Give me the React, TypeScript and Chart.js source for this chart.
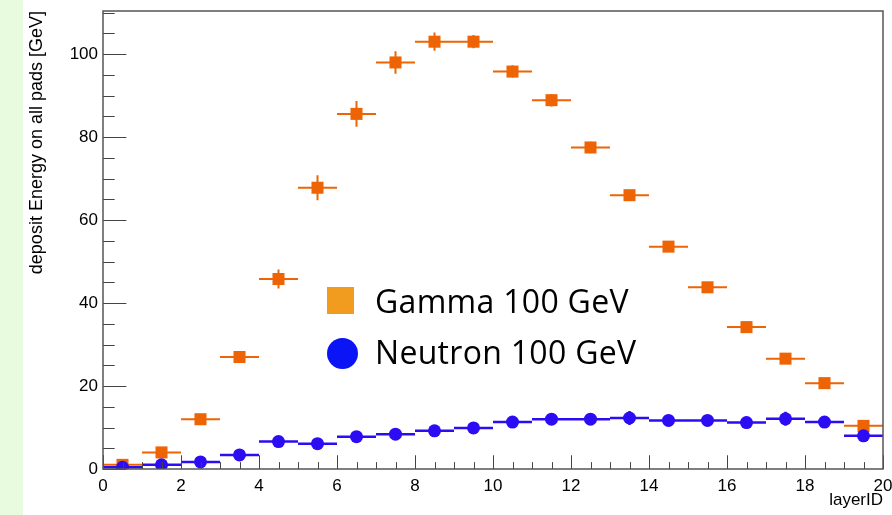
import React, { useEffect, useRef } from 'react';
import { Chart, registerables } from 'chart.js';

Chart.register(...registerables);

// ---- data ----
const layerCenters = [0.5, 1.5, 2.5, 3.5, 4.5, 5.5, 6.5, 7.5, 8.5, 9.5, 10.5, 11.5, 12.5, 13.5, 14.5, 15.5, 16.5, 17.5, 18.5, 19.5];
const gammaEnergy = [1.0, 4.0, 12.0, 27.0, 45.8, 67.8, 85.6, 98.0, 103.0, 103.0, 95.8, 88.9, 77.5, 66.0, 53.6, 43.8, 34.2, 26.6, 20.7, 10.4];
const gammaError = [0.4, 0.7, 1.0, 1.4, 2.3, 3.0, 3.1, 2.7, 2.2, 1.6, 1.5, 1.5, 1.4, 1.2, 1.3, 1.1, 1.0, 0.9, 0.8, 0.6];
const neutronEnergy = [0.4, 1.0, 1.7, 3.4, 6.6, 6.1, 7.8, 8.4, 9.2, 9.9, 11.3, 12.0, 12.0, 12.3, 11.7, 11.7, 11.2, 12.1, 11.3, 8.0];
const neutronError = [0.2, 0.4, 0.5, 0.8, 1.2, 1.0, 1.1, 1.0, 1.0, 1.0, 1.3, 1.4, 1.4, 1.7, 1.2, 1.2, 1.2, 1.7, 1.1, 1.0];
const xTickLabels = [0, 2, 4, 6, 8, 10, 12, 14, 16, 18, 20];
const yTickLabels = [0, 20, 40, 60, 80, 100];
const binHalfWidth = 0.5;
const xMinorStep = 0.5;
const yMinorStep = 5;
const xMin = 0, xMax = 20, yMin = 0, yMax = 110.4;

const FONT = '"Liberation Sans", Arial, Helvetica, sans-serif';

const histPlugin = {
  id: 'rootHist',
  beforeDatasetDraw(chart: any, args: any) {
    const ds = chart.data.datasets[args.index];
    const xs = chart.scales.x, ys = chart.scales.y;
    const ctx = chart.ctx;
    ctx.save();
    ctx.strokeStyle = ds.borderColor;
    ctx.lineWidth = ds.errLineWidth;
    ds.data.forEach((p: any, i: number) => {
      const x0 = xs.getPixelForValue(p.x - binHalfWidth);
      const x1 = xs.getPixelForValue(p.x + binHalfWidth);
      const xc = xs.getPixelForValue(p.x);
      const y = ys.getPixelForValue(p.y);
      const e = ds.errors[i];
      ctx.beginPath();
      ctx.moveTo(x0, y);
      ctx.lineTo(x1, y);
      ctx.moveTo(xc, ys.getPixelForValue(p.y + e));
      ctx.lineTo(xc, ys.getPixelForValue(p.y - e));
      ctx.stroke();
    });
    ctx.restore();
  },
  afterDraw(chart: any) {
    const { ctx, chartArea } = chart;
    const xs = chart.scales.x, ys = chart.scales.y;
    const h = chartArea.bottom - chartArea.top;
    const w = chartArea.right - chartArea.left;
    ctx.save();
    ctx.strokeStyle = '#444';
    ctx.lineWidth = 1;
    ctx.beginPath();
    // x ticks (inward)
    for (let v = xMin; v <= xMax + 1e-9; v += xMinorStep) {
      const major = xTickLabels.includes(Math.round(v * 100) / 100);
      const len = major ? 0.03 * h : 0.015 * h;
      const px = Math.round(xs.getPixelForValue(v)) + 0.5;
      ctx.moveTo(px, chartArea.bottom);
      ctx.lineTo(px, chartArea.bottom - len);
    }
    // y ticks (inward)
    for (let v = yMin; v <= yMax + 1e-9; v += yMinorStep) {
      const major = yTickLabels.includes(v);
      const len = major ? 0.03 * w : 0.015 * w;
      const py = Math.round(ys.getPixelForValue(v)) + 0.5;
      ctx.moveTo(chartArea.left, py);
      ctx.lineTo(chartArea.left + len, py);
    }
    ctx.stroke();
    ctx.strokeStyle = '#555';
    ctx.lineWidth = 1.5;
    ctx.strokeRect(chartArea.left, chartArea.top, w, h);
    ctx.restore();
  },
};

export default function App() {
  const canvasRef = useRef<HTMLCanvasElement | null>(null);

  useEffect(() => {
    const canvas = canvasRef.current;
    if (!canvas) return;
    const chart = new Chart(canvas, {
      type: 'scatter',
      data: {
        datasets: [
          {
            label: 'Neutron 100 GeV',
            data: layerCenters.map((x, i) => ({ x, y: neutronEnergy[i] })),
            errors: neutronError,
            errLineWidth: 2.5,
            pointStyle: 'circle',
            pointRadius: 6.5,
            backgroundColor: '#2c0cf2',
            borderColor: '#2c0cf2',
            borderWidth: 0,
            order: 0,
          } as any,
          {
            label: 'Gamma 100 GeV',
            data: layerCenters.map((x, i) => ({ x, y: gammaEnergy[i] })),
            errors: gammaError,
            errLineWidth: 2,
            pointStyle: 'rect',
            pointRadius: 8.5,
            backgroundColor: '#ee6405',
            borderColor: '#ee6405',
            borderWidth: 0,
            order: 1,
          } as any,
        ],
      },
      options: {
        responsive: false,
        animation: false,
        events: [],
        layout: { padding: { left: 23, right: 9, top: 11, bottom: 0 } },
        plugins: { legend: { display: false }, tooltip: { enabled: false } },
        scales: {
          x: {
            type: 'linear',
            min: xMin,
            max: xMax,
            afterBuildTicks: (s: any) => { s.ticks = xTickLabels.map((v) => ({ value: v })); },
            afterFit: (s: any) => { s.height = 46; s.paddingLeft = 0; s.paddingRight = 0; },
            grid: { display: false, drawTicks: false },
            border: { display: false },
            ticks: { font: { family: FONT, size: 17 }, color: '#000', padding: 7, maxRotation: 0, autoSkip: false },
            title: { display: true, text: 'layerID', align: 'end', font: { family: FONT, size: 17 }, color: '#000', padding: { top: 0, bottom: 4 } },
          },
          y: {
            type: 'linear',
            min: yMin,
            max: yMax,
            afterBuildTicks: (s: any) => { s.ticks = yTickLabels.map((v) => ({ value: v })); },
            afterFit: (s: any) => { s.width = 80; s.paddingTop = 0; s.paddingBottom = 0; },
            grid: { display: false, drawTicks: false },
            border: { display: false },
            ticks: { font: { family: FONT, size: 17 }, color: '#000', padding: 5, autoSkip: false },
            title: { display: true, text: 'deposit Energy on all pads [GeV]', align: 'end', font: { family: FONT, size: 18 }, color: '#000', padding: { top: 3, bottom: 0 } },
          },
        },
      } as any,
      plugins: [histPlugin],
    });
    return () => chart.destroy();
  }, []);

  const legendText: React.CSSProperties = {
    position: 'absolute',
    left: 375,
    fontFamily: '"Open Sans", sans-serif',
    fontSize: 32,
    lineHeight: '32px',
    letterSpacing: '0.3px',
    color: '#000',
    whiteSpace: 'nowrap',
  };

  return (
    <div style={{ position: 'absolute', left: 0, top: 0, width: 892, height: 515, overflow: 'hidden', background: '#fff' }}>
      <div style={{ position: 'absolute', left: 0, top: 0, width: 23, height: 515, background: '#e8fbdf' }} />
      <canvas ref={canvasRef} width={892} height={515} style={{ position: 'absolute', left: 0, top: 0, width: 892, height: 515 }} />
      <div style={{ position: 'absolute', left: 327, top: 287, width: 27, height: 27, background: '#f29c1f' }} />
      <div style={{ ...legendText, top: 284.6 }}>Gamma 100 GeV</div>
      <div style={{ position: 'absolute', left: 327, top: 338, width: 31, height: 31, borderRadius: '50%', background: '#0a14f5' }} />
      <div style={{ ...legendText, top: 335.6 }}>Neutron 100 GeV</div>
    </div>
  );
}
